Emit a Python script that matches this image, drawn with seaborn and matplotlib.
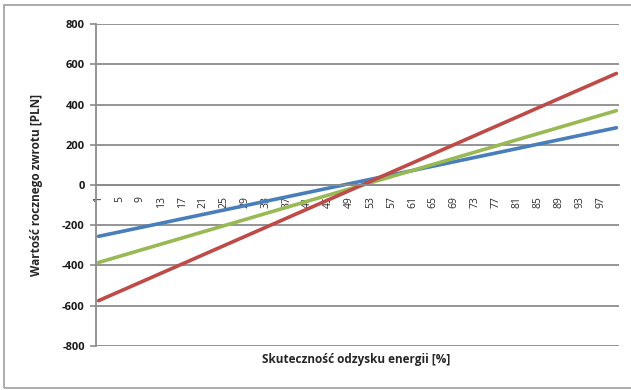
import numpy as np
import pandas as pd
import matplotlib
matplotlib.use("Agg")
import matplotlib.pyplot as plt
import seaborn as sns
from matplotlib.patches import Rectangle

# Data (straight lines, endpoints at 1% and 100%)
efficiency = [1, 100]
series_blue = [-255, 285]
series_green = [-385, 370]
series_red = [-575, 555]

x_ticks = [1, 5, 9, 13, 17, 21, 25, 29, 33, 37, 41, 45, 49,
           53, 57, 61, 65, 69, 73, 77, 81, 85, 89, 93, 97]
y_ticks = [-800, -600, -400, -200, 0, 200, 400, 600, 800]

df = pd.DataFrame({
    "efficiency": efficiency * 3,
    "value": series_blue + series_green + series_red,
    "series": ["blue"] * 2 + ["green"] * 2 + ["red"] * 2,
})

sns.set_style("white")
plt.rcParams["font.family"] = ["Open Sans", "DejaVu Sans"]

fig = plt.figure(figsize=(6.31, 3.90), dpi=100)
ax = fig.add_axes([0.152, 0.113, 0.829, 0.825])

palette = {"blue": "#4A7EBB", "green": "#98B954", "red": "#BE4B48"}
sns.lineplot(data=df, x="efficiency", y="value", hue="series",
             palette=palette, linewidth=2.6, legend=False, ax=ax)

grid_col = "#8C8C8C"
ax.set_ylim(-800, 800)
ax.set_xlim(0.5, 100.5)
ax.set_yticks(y_ticks)
ax.set_yticklabels([str(v) for v in y_ticks], fontsize=8, fontweight="bold",
                   color="#1a1a1a")
ax.yaxis.grid(True, color=grid_col, linewidth=1.3)
ax.set_axisbelow(True)

# category axis sits on the zero line
ax.spines["bottom"].set_position(("data", 0))
ax.spines["bottom"].set_color(grid_col)
ax.spines["bottom"].set_linewidth(1.3)
ax.spines["left"].set_color(grid_col)
ax.spines["left"].set_linewidth(1.3)
ax.spines["top"].set_visible(False)
ax.spines["right"].set_visible(False)

ax.set_xticks(x_ticks)
ax.set_xticklabels([str(v) for v in x_ticks], rotation=90, fontsize=7.5,
                   color="#2a2a2a", va="top")
ax.set_xticks(np.arange(0.5, 101, 1), minor=True)
ax.tick_params(axis="x", which="major", length=0, pad=8)
ax.tick_params(axis="x", which="minor", length=3.5, color=grid_col,
               width=0.9, direction="out")
ax.tick_params(axis="y", which="major", length=4, color=grid_col,
               width=1.2, direction="out", left=True, pad=4)

ax.set_xlabel("")
ax.set_ylabel("Wartość rocznego zwrotu [PLN]", fontsize=8.5,
              fontweight="bold", labelpad=14)
fig.text(0.565, 0.077, "Skuteczność odzysku energii [%]", fontsize=8.5,
         fontweight="bold", ha="center", va="center")

# outer chart border
fig.patches.append(Rectangle((4 / 631, 2 / 390), 640 / 631, 383 / 390,
                             transform=fig.transFigure, fill=False,
                             edgecolor="#A6A6A6", linewidth=1.3))

plt.savefig("out.png", dpi=100)
